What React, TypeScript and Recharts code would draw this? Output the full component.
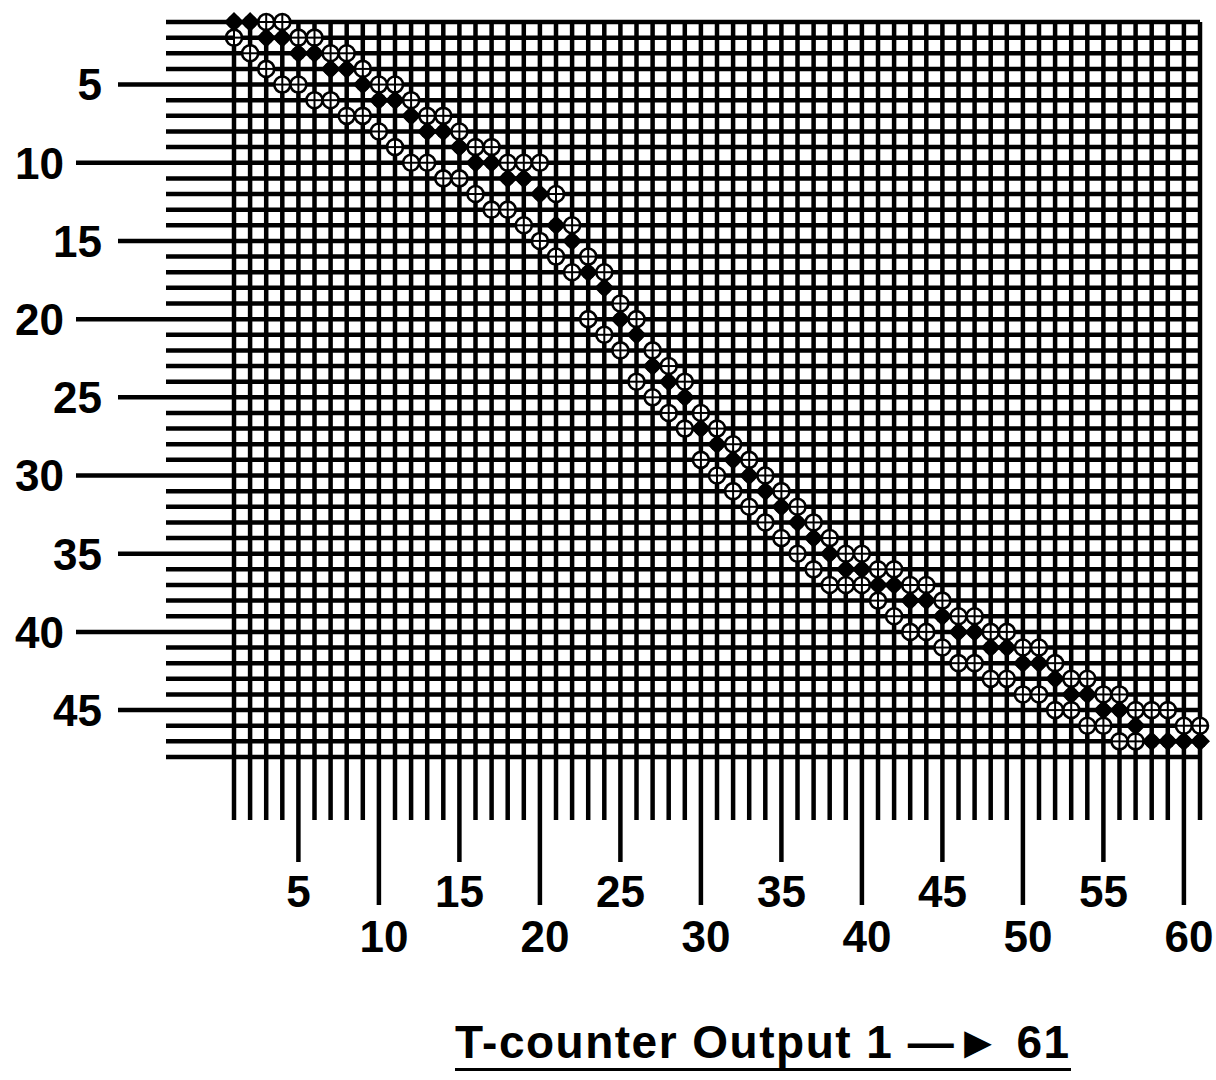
import React from 'react';
import { ScatterChart, Scatter, XAxis, YAxis, CartesianGrid } from 'recharts';

// T-counter outputs 1..61 (columns) and rows 1..48
const colTicks = Array.from({ length: 61 }, (_, i) => i + 1);
const rowTicks = Array.from({ length: 48 }, (_, i) => i + 1);

// row of the upper open (crossed) circle in each column, null = none
const upperRows = [
  null, null, 1, 1, 2, 2, 3, 3, 4, 5,
  5, 6, 7, 7, 8, 9, 9, 10, 10, 10,
  12, 14, 16, 17, 19, 20, 22, 23, 24, 26,
  27, 28, 29, 30, 31, 32, 33, 34, 35, 35,
  36, 36, 37, 37, 38, 39, 39, 40, 40, 41,
  41, 42, 43, 43, 44, 44, 45, 45, 45, 46, 46,
];

// row of the filled marker in each column
const filledRows = [
  1, 1, 2, 2, 3, 3, 4, 4, 5, 6,
  6, 7, 8, 8, 9, 10, 10, 11, 11, 12,
  14, 15, 17, 18, 20, 21, 23, 24, 25, 27,
  28, 29, 30, 31, 32, 33, 34, 35, 36, 36,
  37, 37, 38, 38, 39, 40, 40, 41, 41, 42,
  42, 43, 44, 44, 45, 45, 46, 47, 47, 47, 47,
];

// row of the lower open (crossed) circle in each column
const lowerRows = [
  2, 3, 4, 5, 5, 6, 6, 7, 7, 8,
  9, 10, 10, 11, 11, 12, 13, 13, 14, 15,
  16, 17, 20, 21, 22, 24, 25, 26, 27, 29,
  30, 31, 32, 33, 34, 35, 36, 37, 37, 37,
  38, 39, 40, 40, 41, 42, 42, 43, 43, 44,
  44, 45, 45, 46, 46, 47, 47, null, null, null, null,
];

const toPoints = (rows: (number | null)[]) =>
  rows
    .map((r, i) => (r == null ? null : { x: colTicks[i], y: r }))
    .filter((p) => p !== null) as { x: number; y: number }[];

const upperData = toPoints(upperRows);
const filledData = toPoints(filledRows);
const lowerData = toPoints(lowerRows);

const FONT = '"Liberation Sans", Arial, Helvetica, sans-serif';

const OpenCircle = (props: any) => {
  const { cx, cy } = props;
  if (cx == null || cy == null) return null;
  return (
    <g>
      <circle cx={cx} cy={cy} r={8} fill="#fff" stroke="#000" strokeWidth={2.6} />
      <line x1={cx - 8} x2={cx + 8} y1={cy} y2={cy} stroke="#000" strokeWidth={2} />
      <line x1={cx} x2={cx} y1={cy - 8} y2={cy + 8} stroke="#000" strokeWidth={2} />
    </g>
  );
};

const FilledMark = (props: any) => {
  const { cx, cy } = props;
  if (cx == null || cy == null) return null;
  const s = 10;
  return (
    <g>
      <path d={`M${cx},${cy - s}L${cx + s},${cy}L${cx},${cy + s}L${cx - s},${cy}Z`} fill="#000" />
      <circle cx={cx} cy={cy} r={7} fill="#000" />
    </g>
  );
};

const RowTick = (props: any) => {
  const { y, payload } = props;
  const v = payload.value as number;
  const left = v % 10 === 0 ? 76 : v % 5 === 0 ? 118 : 166;
  return (
    <g>
      <line x1={left} x2={234} y1={y} y2={y} stroke="#000" strokeWidth={4.5} />
      {v % 5 === 0 && (
        <text
          x={v % 10 === 0 ? 64 : 102}
          y={y}
          dy="0.36em"
          textAnchor="end"
          fontFamily={FONT}
          fontWeight="bold"
          fontSize={44}
          fill="#000"
        >
          {v}
        </text>
      )}
    </g>
  );
};

const ColTick = (props: any) => {
  const { x, payload } = props;
  const v = payload.value as number;
  const bottom = v % 10 === 0 ? 905 : v % 5 === 0 ? 862 : 820;
  return (
    <g>
      <line x1={x} x2={x} y1={757} y2={bottom} stroke="#000" strokeWidth={4.5} />
      {v % 5 === 0 && (
        <text
          x={v % 10 === 0 ? x + 5 : x}
          y={v % 10 === 0 ? 952 : 907}
          textAnchor="middle"
          fontFamily={FONT}
          fontWeight="bold"
          fontSize={44}
          fill="#000"
        >
          {v}
        </text>
      )}
    </g>
  );
};

export default function App() {
  return (
    <div style={{ position: 'absolute', left: 0, top: 0, width: 1216, height: 1080, background: '#fff' }}>
      <ScatterChart width={1216} height={1080} margin={{ top: 22, right: 16, bottom: 293, left: 204 }}>
        <CartesianGrid stroke="#000" strokeWidth={4.5} />
        <XAxis
          type="number"
          dataKey="x"
          domain={[1, 61]}
          ticks={colTicks}
          interval={0}
          height={30}
          axisLine={false}
          tickLine={false}
          tick={<ColTick />}
        />
        <YAxis
          type="number"
          dataKey="y"
          domain={[1, 48]}
          reversed
          ticks={rowTicks}
          interval={0}
          width={30}
          axisLine={false}
          tickLine={false}
          tick={<RowTick />}
        />
        <Scatter data={upperData} shape={<OpenCircle />} isAnimationActive={false} />
        <Scatter data={lowerData} shape={<OpenCircle />} isAnimationActive={false} />
        <Scatter data={filledData} shape={<FilledMark />} isAnimationActive={false} />
      </ScatterChart>
      <div
        style={{
          position: 'absolute',
          left: 455,
          top: 1019,
          fontFamily: FONT,
          fontWeight: 'bold',
          fontSize: 46,
          lineHeight: '46px',
          letterSpacing: 1.5,
          whiteSpace: 'nowrap',
          paddingBottom: 3,
          borderBottom: '3px solid #000',
        }}
      >
        T-counter Output 1 —► 61
      </div>
    </div>
  );
}
